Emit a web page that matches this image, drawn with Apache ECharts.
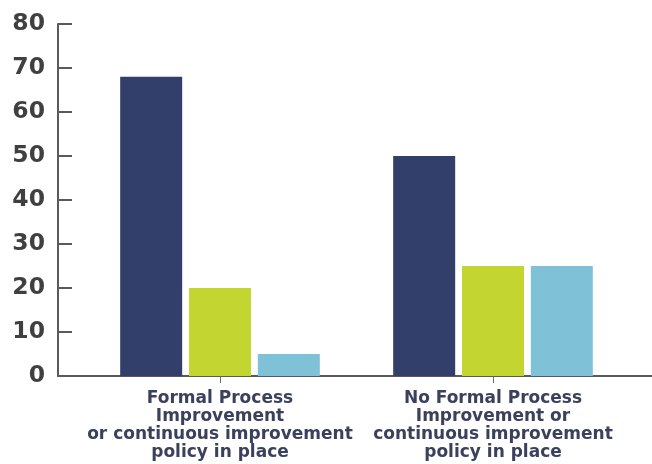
<!DOCTYPE html>
<html>
<head>
<meta charset="utf-8">
<script src="https://cdn.jsdelivr.net/npm/echarts@6/dist/echarts.min.js"></script>
<style>
  html, body { margin: 0; padding: 0; background: #ffffff; }
  #chart { width: 652px; height: 464px; }
</style>
</head>
<body>
<div id="chart"></div>
<script>
// Survey groups and the three answer shares (percent) per group
const categories = [
  'Formal Process\nImprovement\nor continuous improvement\npolicy in place',
  'No Formal Process\nImprovement or\ncontinuous improvement\npolicy in place'
];
const seriesA = [68, 50];
const seriesB = [20, 25];
const seriesC = [5, 25];
const seriesColors = ['#323f6b', '#c3d531', '#7fc2d7'];
const yTicks = { min: 0, max: 80, interval: 10 };

const chart = echarts.init(document.getElementById('chart'), null, { renderer: 'canvas' });

const gridTop = 24, gridBottom = 88;
const font = '"DejaVu Sans", Verdana, sans-serif';

function barSeries(values, color) {
  return {
    type: 'bar',
    data: values,
    barWidth: 62,
    barGap: '11%',
    itemStyle: { color: color },
    emphasis: { disabled: true }
  };
}

chart.setOption({
  animation: false,
  grid: [
    // bars and category labels
    { left: 83.5, width: 546, top: gridTop, bottom: gridBottom, outerBoundsMode: 'none', containLabel: false },
    // full-width baseline
    { left: 58, right: 0, top: gridTop, bottom: gridBottom, outerBoundsMode: 'none', containLabel: false }
  ],
  xAxis: [
    {
      type: 'category', gridIndex: 0, data: categories,
      axisLine: { show: false },
      axisTick: { show: true, alignWithLabel: true, length: 7, lineStyle: { color: '#6b6b6b', width: 1 } },
      axisLabel: {
        margin: 14, color: '#3b405c', fontFamily: font, fontWeight: 'bold',
        fontSize: 17, lineHeight: 18, interval: 0
      }
    },
    {
      type: 'value', gridIndex: 1, min: 0, max: 1,
      axisLine: { show: true, onZero: false, lineStyle: { color: '#5a5a5a', width: 2 } },
      axisTick: { show: false }, axisLabel: { show: false }, splitLine: { show: false }
    }
  ],
  yAxis: [
    {
      type: 'value', gridIndex: 0,
      min: yTicks.min, max: yTicks.max, interval: yTicks.interval,
      offset: 25.5,
      axisLine: { show: true, lineStyle: { color: '#5a5a5a', width: 2 } },
      axisTick: { show: true, inside: true, length: 14, lineStyle: { color: '#5a5a5a', width: 2 } },
      axisLabel: { margin: 13, color: '#404040', fontFamily: font, fontWeight: 'bold', fontSize: 23.5 },
      splitLine: { show: false }
    },
    { type: 'value', gridIndex: 1, min: 0, max: 1, show: false }
  ],
  series: [
    barSeries(seriesA, seriesColors[0]),
    barSeries(seriesB, seriesColors[1]),
    barSeries(seriesC, seriesColors[2])
  ]
});
</script>
</body>
</html>
